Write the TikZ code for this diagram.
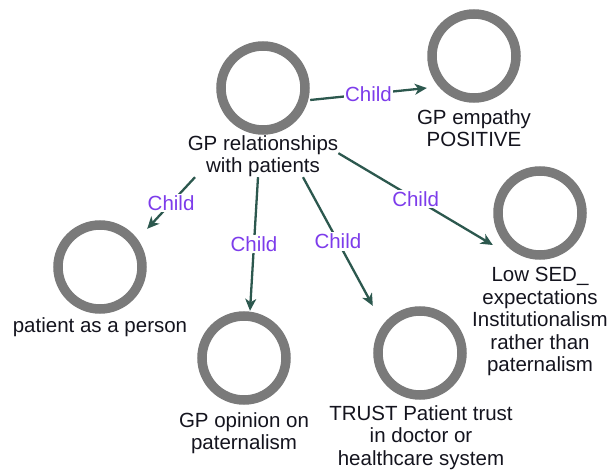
\documentclass[tikz,border=0pt]{standalone}
\usepackage{fontspec}
\setmainfont{Liberation Sans}
\usetikzlibrary{arrows.meta}
\definecolor{ringgray}{RGB}{122,122,122}
\definecolor{edgeteal}{RGB}{44,88,78}
\definecolor{childviolet}{RGB}{125,60,235}
\definecolor{labelink}{RGB}{20,20,30}

\begin{document}
\begin{tikzpicture}[x=1pt,y=-1pt,
  ring/.style={rectangle, minimum width=94pt, minimum height=94pt, inner sep=0pt,
    path picture={\draw[ringgray, line width=9.5pt]
      (path picture bounding box.center) circle[radius=42pt];}},
  caption/.style={anchor=north, align=center, inner sep=0pt, text=labelink,
    font=\fontsize{20.5}{22.5}\selectfont},
  childedge/.style={-{Stealth[length=12pt,width=11pt,inset=3.5pt]},
    edgeteal, line width=2.3pt},
  tag/.style={fill=white, inner sep=1.5pt, text=childviolet,
    font=\fontsize{20.5}{22.5}\selectfont}]

\useasboundingbox (0,0) rectangle (610,471);

% concept rings
\node[ring] (rel) at (263,88)  {};
\node[ring] (emp) at (474,56)  {};
\node[ring] (low) at (540,213) {};
\node[ring] (pat) at (100,267) {};
\node[ring] (opi) at (244,358) {};
\node[ring] (tru) at (420,353) {};

% captions under the rings
\node[caption] (relT) at (263,135.2) {GP relationships\\with patients};
\node[caption] (empT) at (474,109.2) {GP empathy\\POSITIVE};
\node[caption] (lowT) at (540,267.2) {Low SED\_\\expectations\\Institutionalism\\rather than\\paternalism};
\node[caption] (patT) at (100,317.2) {patient as a person};
\node[caption] (opiT) at (244,412.2) {GP opinion on\\paternalism};
\node[caption] (truT) at (421,405.2) {TRUST Patient trust\\in doctor or\\healthcare system};

% child links
\draw[childedge] ([yshift=-12pt]rel.east) -- node[tag]{Child} ([yshift=-32pt]emp.west);
\draw[childedge] ([xshift=-68pt]relT.south) -- node[tag]{Child} ([yshift=-9pt]pat.north east);
\draw[childedge] ([xshift=-5pt]relT.south) -- node[tag]{Child} ([xshift=6pt]opi.north);
\draw[childedge] ([xshift=40pt]relT.south) -- node[tag]{Child} (tru.north west);
\draw[childedge] ([yshift=3pt]relT.east) -- node[tag]{Child} ([yshift=-32pt]low.west);
\end{tikzpicture}
\end{document}
